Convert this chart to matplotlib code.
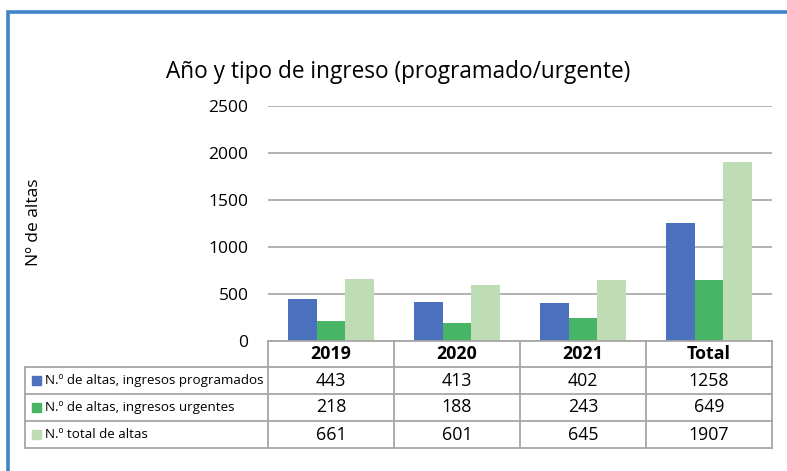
import numpy as np
import matplotlib.pyplot as plt
from matplotlib.lines import Line2D
from matplotlib.patches import Rectangle

plt.rcParams['font.family'] = ['Open Sans', 'DejaVu Sans']

# Data
categories = ["2019", "2020", "2021", "Total"]
programados = [443, 413, 402, 1258]
urgentes = [218, 188, 243, 649]
totales = [661, 601, 645, 1907]
series_names = ["N.º de altas, ingresos programados",
                "N.º de altas, ingresos urgentes",
                "N.º total de altas"]
series_values = [programados, urgentes, totales]
colors = ["#4A70BE", "#48B466", "#BEDDB4"]

W, H = 787, 471
fig = plt.figure(figsize=(W / 100, H / 100), dpi=100)


def fx(px):
    return px / W


def fy(py):
    return 1 - py / H


# plot area
left, right, top, base = 268, 772, 106, 341
ax = fig.add_axes([fx(left), fy(base), fx(right) - fx(left), fy(top) - fy(base)])
x = np.arange(len(categories))
w = 0.225
for i, (vals, c) in enumerate(zip(series_values, colors)):
    ax.bar(x + (i - 1) * w, vals, w, color=c, zorder=3)
ax.set_xlim(-0.5, len(categories) - 0.5)
ax.set_ylim(0, 2500)
ax.set_yticks(range(0, 2501, 500))
ax.tick_params(axis='y', length=0, labelsize=12.5, pad=14)
ax.set_xticks([])
ax.grid(axis='y', color="#ABABAB", linewidth=1.3, zorder=0)
for s in ax.spines.values():
    s.set_visible(False)

fig.text(fx(398), fy(72), "Año y tipo de ingreso (programado/urgente)",
         ha='center', va='center', fontsize=16.3)
fig.text(fx(34), fy(222), "Nº de altas", rotation=90,
         ha='center', va='center', fontsize=12.5)

# data table below plot
lc = "#A6A6A6"
lw = 1.3
row_y = [341, 367, 394, 421, 448]
col_x = [left + k * (right - left) / 4 for k in range(5)]
label_left = 25


def hline(x0, x1, y):
    fig.add_artist(Line2D([fx(x0), fx(x1)], [fy(y), fy(y)], color=lc, lw=lw))


def vline(xp, y0, y1):
    fig.add_artist(Line2D([fx(xp), fx(xp)], [fy(y0), fy(y1)], color=lc, lw=lw))


hline(left, right, row_y[0])
for y in row_y[1:]:
    hline(label_left, right, y)
vline(label_left, row_y[1], row_y[-1])
for xp in col_x:
    vline(xp, row_y[0], row_y[-1])

for j, cat in enumerate(categories):
    cx = (col_x[j] + col_x[j + 1]) / 2
    fig.text(fx(cx), fy((row_y[0] + row_y[1]) / 2), cat, ha='center',
             va='center', fontsize=12.8, fontweight='bold')
for i, (name, vals, c) in enumerate(zip(series_names, series_values, colors)):
    cy = (row_y[i + 1] + row_y[i + 2]) / 2
    fig.add_artist(Rectangle((fx(32), fy(cy + 4.5)), 9 / W, 9 / H,
                             color=c, transform=fig.transFigure))
    fig.text(fx(45), fy(cy), name, ha='left', va='center', fontsize=9.6)
    for j, v in enumerate(vals):
        cx = (col_x[j] + col_x[j + 1]) / 2
        fig.text(fx(cx), fy(cy), str(v), ha='center', va='center',
                 fontsize=12.8)

# blue frame
fig.add_artist(Line2D([fx(8), fx(8), 1.0], [0.0, fy(12), fy(12)],
                      color="#3D85C6", lw=2.6, solid_joinstyle='miter'))

fig.savefig("out.png", dpi=100)
